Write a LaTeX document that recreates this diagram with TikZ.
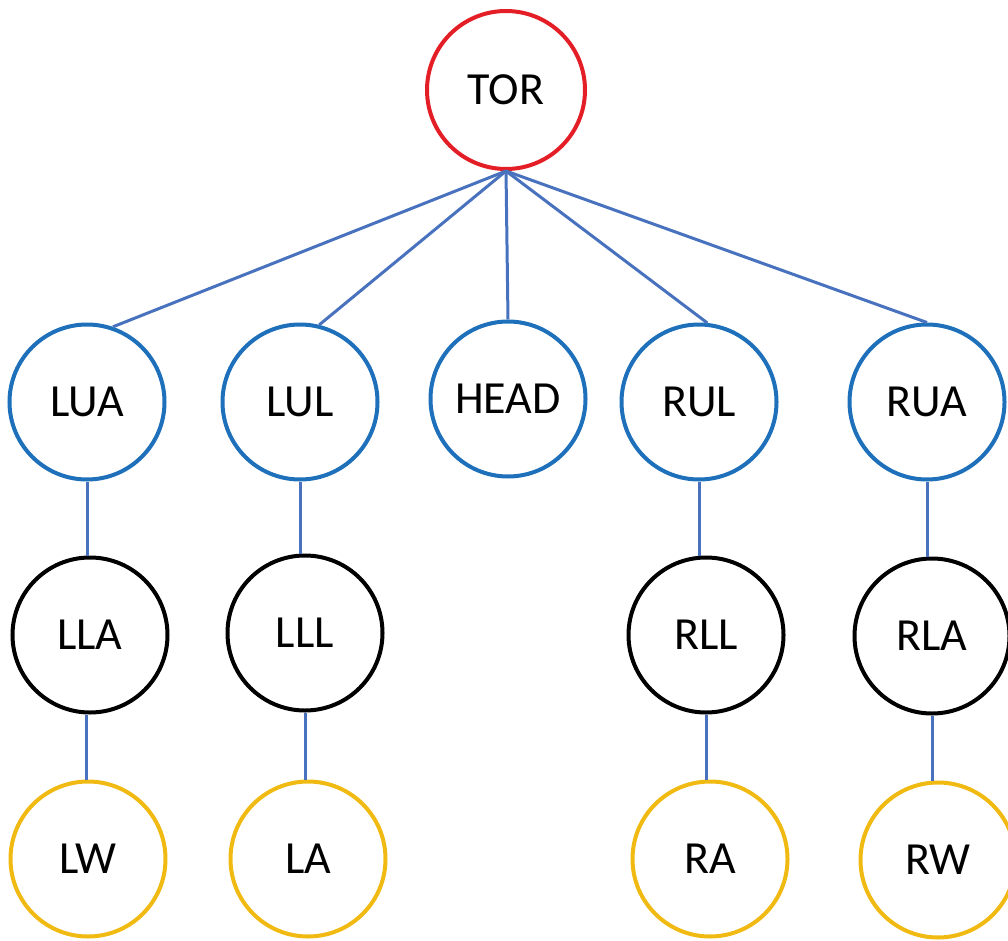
\documentclass[tikz,border=0pt]{standalone}
\usepackage{fontspec}
\setmainfont{Carlito}
\definecolor{torred}{RGB}{228,30,38}
\definecolor{midblue}{RGB}{30,112,186}
\definecolor{linkblue}{RGB}{72,114,190}
\definecolor{gold}{RGB}{240,186,18}
\tikzset{
  joint/.style={circle, draw, line width=4pt, minimum size=155pt, inner sep=0pt,
    font=\fontsize{46}{50}\selectfont, fill=white},
  root/.style={joint, draw=torred, minimum size=158pt},
  upper/.style={joint, draw=midblue},
  lower/.style={joint, draw=black},
  tip/.style={joint, draw=gold},
  link/.style={draw=linkblue, line width=3pt}
}
\begin{document}
\begin{tikzpicture}[x=1pt,y=-1pt]
\useasboundingbox (0,0) rectangle (1008,941);
% nodes
\node[root]  (TOR)  at (506,90)  {TOR};
\node[upper] (LUA)  at (87,402)  {LUA};
\node[upper] (LUL)  at (300,402) {LUL};
\node[upper] (HEAD) at (508,399) {HEAD};
\node[upper] (RUL)  at (699,402) {RUL};
\node[upper] (RUA)  at (927,402) {RUA};
\node[lower] (LLA)  at (90,635)  {LLA};
\node[lower] (LLL)  at (305,633) {LLL};
\node[lower] (RLL)  at (706,635) {RLL};
\node[lower] (RLA)  at (932,636) {RLA};
\node[tip]   (LW)   at (88,859)  {LW};
\node[tip]   (LA)   at (308,859) {LA};
\node[tip]   (RA)   at (710,859) {RA};
\node[tip]   (RW)   at (938,860) {RW};
% connectors
\draw[link] (TOR.south) -- (LUA.71);
\draw[link] (TOR.south) -- (LUL.76);
\draw[link] (TOR.south) -- (HEAD.north);
\draw[link] (TOR.south) -- (RUL.84);
\draw[link] (TOR.south) -- (RUA.north);
\draw[link] (LUA.south) -- (LUA.south |- LLA.north);
\draw[link] (LUL.south) -- (LUL.south |- LLL.north);
\draw[link] (RUL.south) -- (RUL.south |- RLL.north);
\draw[link] (RUA.south) -- (RUA.south |- RLA.north);
\draw[link] ([xshift=-4pt]LLA.south) -- ([xshift=-4pt]LLA.south |- LW.north);
\draw[link] (LLL.south) -- (LLL.south |- LA.north);
\draw[link] (RLL.south) -- (RLL.south |- RA.north);
\draw[link] (RLA.south) -- (RLA.south |- RW.north);
\end{tikzpicture}
\end{document}
